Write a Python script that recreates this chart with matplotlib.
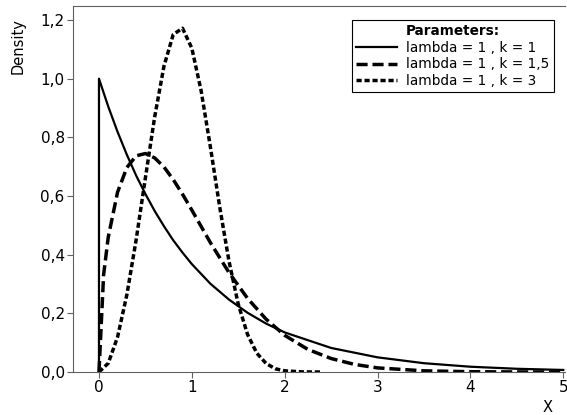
import matplotlib.pyplot as plt
from matplotlib.ticker import FuncFormatter

# values (Weibull densities, lambda = 1)
x_k1 = [0, 0, 0.1, 0.2, 0.3, 0.4, 0.5, 0.6, 0.7, 0.8, 0.9, 1.0, 1.2, 1.4, 1.6, 1.8, 2.0,
        2.5, 3.0, 3.5, 4.0, 4.5, 5.0]
y_k1 = [0, 1.0, 0.905, 0.819, 0.741, 0.670, 0.607, 0.549, 0.497, 0.449, 0.407, 0.368, 0.301,
        0.247, 0.202, 0.165, 0.135, 0.082, 0.050, 0.030, 0.018, 0.011, 0.007]

x_k15 = [0, 0.05, 0.1, 0.2, 0.3, 0.4, 0.5, 0.6, 0.7, 0.8, 0.9, 1.0, 1.2, 1.4, 1.6, 1.8,
         2.0, 2.25, 2.5, 2.75, 3.0, 3.5, 4.0, 4.5, 5.0]
y_k15 = [0, 0.332, 0.460, 0.613, 0.697, 0.737, 0.745, 0.730, 0.699, 0.656, 0.606, 0.552, 0.441,
         0.339, 0.251, 0.180, 0.125, 0.077, 0.046, 0.026, 0.014, 0.004, 0.001, 0.0002, 0.0]

x_k3 = [0, 0.1, 0.2, 0.3, 0.4, 0.5, 0.6, 0.7, 0.8, 0.9, 1.0, 1.1, 1.2, 1.3, 1.4, 1.5, 1.6,
        1.7, 1.8, 1.9, 2.0, 2.2, 2.4]
y_k3 = [0, 0.030, 0.119, 0.263, 0.450, 0.662, 0.870, 1.043, 1.151, 1.172, 1.104, 0.959, 0.767,
        0.563, 0.378, 0.231, 0.128, 0.064, 0.029, 0.011, 0.004, 0.0003, 0.0]

labels = ["lambda = 1 , k = 1", "lambda = 1 , k = 1,5", "lambda = 1 , k = 3"]
x_ticks = [0, 1, 2, 3, 4, 5]
y_ticks = [0.0, 0.2, 0.4, 0.6, 0.8, 1.0, 1.2]

fig = plt.figure(figsize=(5.67, 4.15), dpi=100)
ax = fig.add_axes([0.1287, 0.1036, 0.868, 0.882])

ax.plot(x_k1, y_k1, color="black", lw=1.6, label=labels[0])
ax.plot(x_k15, y_k15, color="black", lw=2.5, dashes=(3.2, 1.4), label=labels[1])
ax.plot(x_k3, y_k3, color="black", lw=2.5, dashes=(1.5, 0.8), label=labels[2])

ax.set_xlim(-0.28, 5.02)
ax.set_ylim(0, 1.248)
ax.set_xticks(x_ticks)
ax.set_yticks(y_ticks)
ax.yaxis.set_major_formatter(FuncFormatter(lambda v, p: f"{v:.1f}".replace(".", ",")))
ax.tick_params(labelsize=11, length=4, color="#606060", pad=2)

for s in ["left", "bottom", "top"]:
    ax.spines[s].set_color("#606060")
ax.spines["right"].set_visible(False)

fig.text(0.032, 0.89, "Density", rotation=90, ha="center", va="center", fontsize=10.5)
fig.text(0.966, 0.018, "X", ha="center", va="center", fontsize=10.5)

leg = ax.legend(title="Parameters:", loc="upper right", bbox_to_anchor=(0.977, 0.962),
                fontsize=9.8, title_fontsize=9.8, fancybox=False, framealpha=1,
                edgecolor="black", handlelength=3.0, handletextpad=0.7,
                borderpad=0.3, labelspacing=0.2, borderaxespad=0)
leg.get_title().set_fontweight("bold")
leg.get_frame().set_linewidth(0.8)

fig.savefig("out.png", dpi=100)
